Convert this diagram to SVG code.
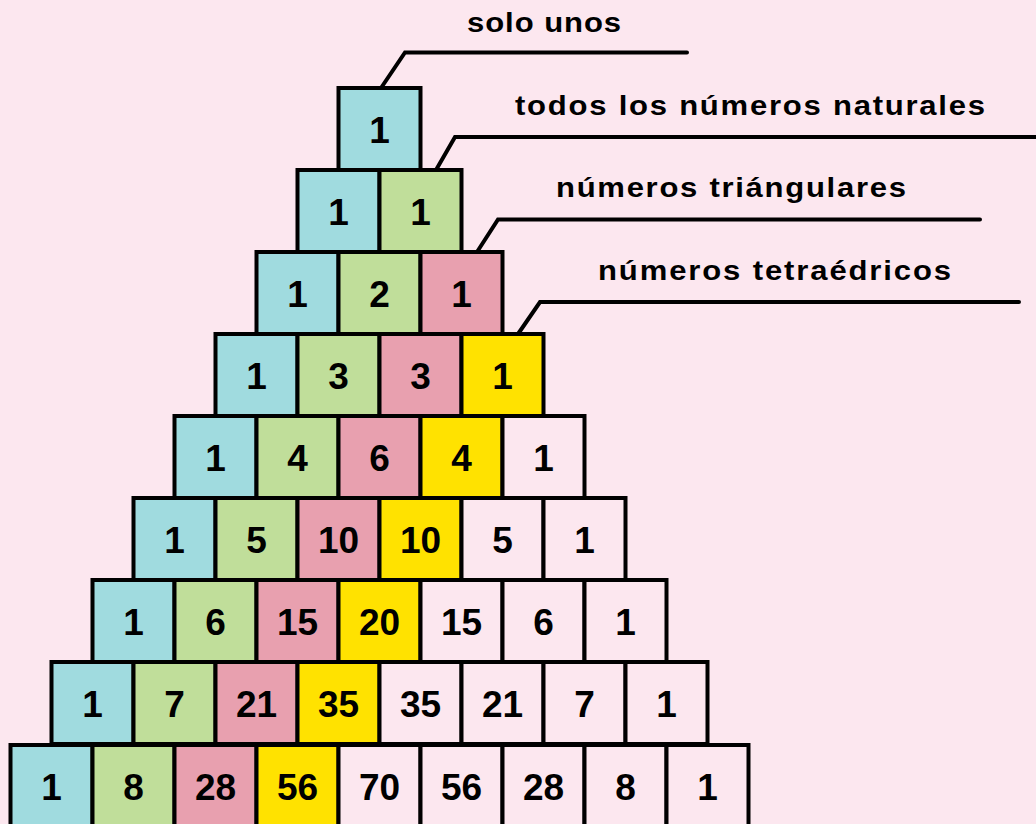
<svg xmlns="http://www.w3.org/2000/svg" width="1036" height="824" viewBox="0 0 1036 824">
<style>
.cell{stroke:#000;stroke-width:4}
.b{fill:#A0DBDF}.g{fill:#C0DE9A}.p{fill:#E8A0AF}.y{fill:#FFE200}.w{fill:#FCE7EF}
.n{font-family:"Liberation Sans",Arial,sans-serif;font-weight:bold;font-size:37px;text-anchor:middle;fill:#000}
.lab{font-family:"Liberation Sans",Arial,sans-serif;font-weight:bold;font-size:27px;fill:#000}
.ln{fill:none;stroke:#000;stroke-width:4;stroke-linecap:round;stroke-linejoin:miter}
</style>
<rect width="1036" height="824" fill="#FCE7EF"/>
<g id="connectors">
<polyline class="ln" points="381,88 405,52.5 687,52.5"/>
<polyline class="ln" points="436,170 455,137 1045,137"/>
<polyline class="ln" points="477,252 498,219.5 980,219.5"/>
<polyline class="ln" points="518,334 540,302 1019,302"/>
</g>
<g id="labels">
<g transform="translate(467,32) scale(1.15,1)"><text class="lab" x="0" y="0" textLength="134" lengthAdjust="spacing">solo unos</text></g>
<g transform="translate(515,115) scale(1.15,1)"><text class="lab" x="0" y="0" textLength="408.7" lengthAdjust="spacing">todos los números naturales</text></g>
<g transform="translate(556,197) scale(1.15,1)"><text class="lab" x="0" y="0" textLength="304.3" lengthAdjust="spacing">números triángulares</text></g>
<g transform="translate(598,280) scale(1.15,1)"><text class="lab" x="0" y="0" textLength="307" lengthAdjust="spacing">números tetraédricos</text></g>
</g>
<g id="row0">
<rect class="cell b" x="338.5" y="88" width="82" height="82"/><text class="n" x="379.5" y="143">1</text>
</g>
<g id="row1">
<rect class="cell b" x="297.5" y="170" width="82" height="82"/><text class="n" x="338.5" y="225">1</text>
<rect class="cell g" x="379.5" y="170" width="82" height="82"/><text class="n" x="420.5" y="225">1</text>
</g>
<g id="row2">
<rect class="cell b" x="256.5" y="252" width="82" height="82"/><text class="n" x="297.5" y="307">1</text>
<rect class="cell g" x="338.5" y="252" width="82" height="82"/><text class="n" x="379.5" y="307">2</text>
<rect class="cell p" x="420.5" y="252" width="82" height="82"/><text class="n" x="461.5" y="307">1</text>
</g>
<g id="row3">
<rect class="cell b" x="215.5" y="334" width="82" height="82"/><text class="n" x="256.5" y="389">1</text>
<rect class="cell g" x="297.5" y="334" width="82" height="82"/><text class="n" x="338.5" y="389">3</text>
<rect class="cell p" x="379.5" y="334" width="82" height="82"/><text class="n" x="420.5" y="389">3</text>
<rect class="cell y" x="461.5" y="334" width="82" height="82"/><text class="n" x="502.5" y="389">1</text>
</g>
<g id="row4">
<rect class="cell b" x="174.5" y="416" width="82" height="82"/><text class="n" x="215.5" y="471">1</text>
<rect class="cell g" x="256.5" y="416" width="82" height="82"/><text class="n" x="297.5" y="471">4</text>
<rect class="cell p" x="338.5" y="416" width="82" height="82"/><text class="n" x="379.5" y="471">6</text>
<rect class="cell y" x="420.5" y="416" width="82" height="82"/><text class="n" x="461.5" y="471">4</text>
<rect class="cell w" x="502.5" y="416" width="82" height="82"/><text class="n" x="543.5" y="471">1</text>
</g>
<g id="row5">
<rect class="cell b" x="133.5" y="498" width="82" height="82"/><text class="n" x="174.5" y="553">1</text>
<rect class="cell g" x="215.5" y="498" width="82" height="82"/><text class="n" x="256.5" y="553">5</text>
<rect class="cell p" x="297.5" y="498" width="82" height="82"/><text class="n" x="338.5" y="553">10</text>
<rect class="cell y" x="379.5" y="498" width="82" height="82"/><text class="n" x="420.5" y="553">10</text>
<rect class="cell w" x="461.5" y="498" width="82" height="82"/><text class="n" x="502.5" y="553">5</text>
<rect class="cell w" x="543.5" y="498" width="82" height="82"/><text class="n" x="584.5" y="553">1</text>
</g>
<g id="row6">
<rect class="cell b" x="92.5" y="580" width="82" height="82"/><text class="n" x="133.5" y="635">1</text>
<rect class="cell g" x="174.5" y="580" width="82" height="82"/><text class="n" x="215.5" y="635">6</text>
<rect class="cell p" x="256.5" y="580" width="82" height="82"/><text class="n" x="297.5" y="635">15</text>
<rect class="cell y" x="338.5" y="580" width="82" height="82"/><text class="n" x="379.5" y="635">20</text>
<rect class="cell w" x="420.5" y="580" width="82" height="82"/><text class="n" x="461.5" y="635">15</text>
<rect class="cell w" x="502.5" y="580" width="82" height="82"/><text class="n" x="543.5" y="635">6</text>
<rect class="cell w" x="584.5" y="580" width="82" height="82"/><text class="n" x="625.5" y="635">1</text>
</g>
<g id="row7">
<rect class="cell b" x="51.5" y="662" width="82" height="82"/><text class="n" x="92.5" y="717">1</text>
<rect class="cell g" x="133.5" y="662" width="82" height="82"/><text class="n" x="174.5" y="717">7</text>
<rect class="cell p" x="215.5" y="662" width="82" height="82"/><text class="n" x="256.5" y="717">21</text>
<rect class="cell y" x="297.5" y="662" width="82" height="82"/><text class="n" x="338.5" y="717">35</text>
<rect class="cell w" x="379.5" y="662" width="82" height="82"/><text class="n" x="420.5" y="717">35</text>
<rect class="cell w" x="461.5" y="662" width="82" height="82"/><text class="n" x="502.5" y="717">21</text>
<rect class="cell w" x="543.5" y="662" width="82" height="82"/><text class="n" x="584.5" y="717">7</text>
<rect class="cell w" x="625.5" y="662" width="82" height="82"/><text class="n" x="666.5" y="717">1</text>
</g>
<g id="row8">
<rect class="cell b" x="10.5" y="745" width="82" height="82"/><text class="n" x="51.5" y="800">1</text>
<rect class="cell g" x="92.5" y="745" width="82" height="82"/><text class="n" x="133.5" y="800">8</text>
<rect class="cell p" x="174.5" y="745" width="82" height="82"/><text class="n" x="215.5" y="800">28</text>
<rect class="cell y" x="256.5" y="745" width="82" height="82"/><text class="n" x="297.5" y="800">56</text>
<rect class="cell w" x="338.5" y="745" width="82" height="82"/><text class="n" x="379.5" y="800">70</text>
<rect class="cell w" x="420.5" y="745" width="82" height="82"/><text class="n" x="461.5" y="800">56</text>
<rect class="cell w" x="502.5" y="745" width="82" height="82"/><text class="n" x="543.5" y="800">28</text>
<rect class="cell w" x="584.5" y="745" width="82" height="82"/><text class="n" x="625.5" y="800">8</text>
<rect class="cell w" x="666.5" y="745" width="82" height="82"/><text class="n" x="707.5" y="800">1</text>
</g>
</svg>
